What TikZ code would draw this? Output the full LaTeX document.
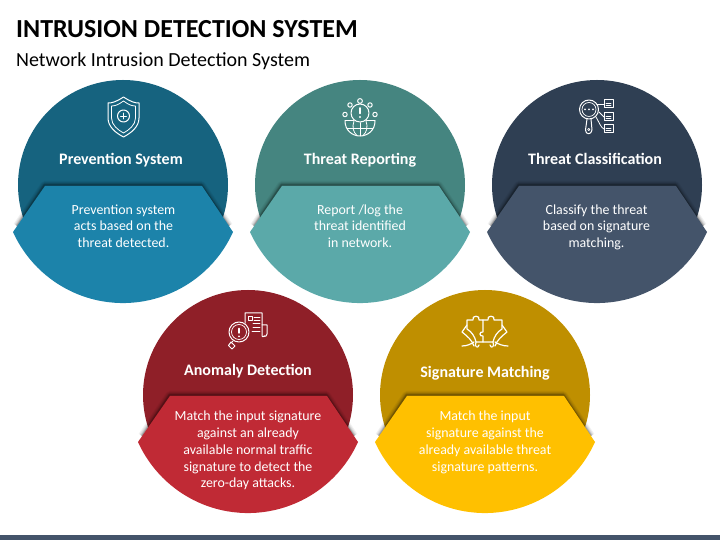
\documentclass[tikz,border=0pt]{standalone}
\usepackage{fontspec}
\setmainfont{Carlito}
\definecolor{cA}{HTML}{16637F}\definecolor{lA}{HTML}{1C83AA}
\definecolor{cB}{HTML}{458580}\definecolor{lB}{HTML}{5BA9A9}
\definecolor{cC}{HTML}{2F3F53}\definecolor{lC}{HTML}{44546A}
\definecolor{cD}{HTML}{8F1F28}\definecolor{lD}{HTML}{C02A35}
\definecolor{cE}{HTML}{BF8F00}\definecolor{lE}{HTML}{FFC000}
\definecolor{barc}{HTML}{44546A}
\tikzset{
  x=1pt,y=1pt,
  headtext/.style={text=white,font=\fontsize{16}{19}\selectfont\bfseries,inner sep=0pt,anchor=base},
  bodytext/.style={text=white,font=\fontsize{13.9}{16.8}\selectfont,align=center,inner sep=0pt,anchor=north},
  ic/.style={draw=white,line width=1pt,line join=round,line cap=round},
  iconarea/.style={x=1pt,y=-1pt,yshift=540pt,ic},
}
% #1 name, #2 cx, #3 top (px from top), #4 dark, #5 light, #6 heading, #7 body, #8 heading position, #9 body position
\newcommand{\unitdisc}[9]{%
  \begin{scope}[shift={(#2,540-#3)}]
    \fill[#4] (0,-105) circle[radius=105];
    \foreach \w/\o in {8/.05,6/.07,4/.09,2.5/.12,1.2/.16}{
      \draw[black,opacity=\o,line width=\w pt,line join=round]
        (-106,-146) -- (-78.5,-105) -- (78.5,-105) -- (106,-146);
    }
    \fill[#5] (-110,-152) -- (-78,-106) -- (79,-106) -- (110,-152)
      arc[start angle=-24.3,end angle=-155.7,radius=120.7] -- cycle;
  \end{scope}
  \node[headtext] (#1head) at (#8) {#6};
  \node[bodytext] (#1body) at (#9) {#7};
}
\begin{document}
\begin{tikzpicture}
\useasboundingbox (0,0) rectangle (720,540);
\fill[barc] (0,0) rectangle (720,5);
\node[anchor=base west,inner sep=0pt,font=\fontsize{26}{30}\selectfont\bfseries] (title) at (16,502) {INTRUSION DETECTION SYSTEM};
\node[anchor=base west,inner sep=0pt,font=\fontsize{20}{24}\selectfont] (subtitle) at (16,473) {Network Intrusion Detection System};

\unitdisc{prev}{123}{80}{cA}{lA}{Prevention System}{Prevention system\\acts based on the\\threat detected.}{121,375.3}{123.5,335.7}
\unitdisc{rep}{360}{80}{cB}{lB}{Threat Reporting}{Report /log the\\threat identified\\in network.}{360,375.3}{360,335.7}
\unitdisc{cls}{597}{80}{cC}{lC}{Threat Classification}{Classify the threat\\based on signature\\matching.}{595,375.3}{596.5,335.7}
\unitdisc{ano}{248}{290}{cD}{lD}{Anomaly Detection}{Match the input signature\\against an already\\available normal traffic\\signature to detect the\\zero-day attacks.}{248,164.3}{248,129.2}
\unitdisc{sig}{485}{290}{cE}{lE}{Signature Matching}{Match the input\\signature against the\\already available threat\\signature patterns.}{485,162.3}{485,129.2}

% shield
\begin{scope}[iconarea]
  \draw (123.5,97) .. controls (116,102) and (112,103) .. (108,103) -- (108,118) .. controls (108,127) and (116,133) .. (123.5,137) .. controls (131,133) and (139,127) .. (139,118) -- (139,103) .. controls (135,103) and (131,102) .. (123.5,97) -- cycle;
  \draw[line width=.8pt] (123.5,101) .. controls (118,105) and (115,106) .. (111.5,106) -- (111.5,118) .. controls (111.5,125) and (118,130) .. (123.5,133) .. controls (129,130) and (135.5,125) .. (135.5,118) -- (135.5,106) .. controls (132,106) and (129,105) .. (123.5,101) -- cycle;
  \draw (123.5,116) circle[radius=6];
  \draw[line width=.8pt] (120.5,116) -- (126.5,116) (123.5,113) -- (123.5,119);
\end{scope}
% globe
\begin{scope}[iconarea]
  \draw (345,121) -- (375,121);
  \draw (345,121) .. controls (345,130) and (352,136) .. (360,136) .. controls (368,136) and (375,130) .. (375,121);
  \draw[line width=.8pt] (360,121) -- (360,136) (347,128) -- (373,128);
  \draw[line width=.8pt] (354,121) .. controls (352,127) and (353,132) .. (357,135.5);
  \draw[line width=.8pt] (366,121) .. controls (368,127) and (367,132) .. (363,135.5);
  \fill[cB] (360,113) circle[radius=9.5];
  \draw (360,113) circle[radius=9];
  \draw[line width=1.5pt] (360,108) -- (360,113.5);
  \fill[white] (360,117) circle[radius=1.1];
  \draw (350,105) circle[radius=2.2];
  \draw (360,101) circle[radius=2.4];
  \draw (370,105) circle[radius=2.2];
  \draw (345,114.5) circle[radius=2.2];
  \draw (375,114.5) circle[radius=2.2];
\end{scope}
% magnifier with lists
\begin{scope}[iconarea]
  \draw (589,109.5) circle[radius=9.5];
  \draw[line width=.7pt] (589,109.5) circle[radius=7];
  \fill[white] (585,109.5) circle[radius=1] (589,109.5) circle[radius=1] (593,109.5) circle[radius=1];
  \draw (587,119) -- (585.5,130) .. controls (585.5,135) and (591.5,135) .. (592,130) -- (591,119);
  \draw[line width=.7pt] (588.7,129.5) circle[radius=1.2];
  \draw (604,100) rectangle (613,108);
  \draw (604,113) rectangle (613,121);
  \draw (604,125) rectangle (613,133);
  \draw[line width=.7pt] (606,103) -- (611,103) (606,105.5) -- (611,105.5) (606,116) -- (611,116) (606,118.5) -- (611,118.5) (606,128) -- (611,128) (606,130.5) -- (611,130.5);
  \draw[line width=.8pt] (597,104) .. controls (600,104) and (601,104) .. (604,104);
  \draw[line width=.8pt] (599,112) -- (604,117);
  \draw[line width=.8pt] (596,117) .. controls (599,122) and (601,128) .. (604,129);
\end{scope}
% magnifier with document
\begin{scope}[iconarea]
  \draw (245,324) -- (245,313) -- (262,313) -- (262,336) .. controls (262,337) and (263,337) .. (265,336);
  \draw (262,325) -- (267,325) -- (267,334) .. controls (267,336) and (265,337) .. (264,336);
  \draw[line width=.8pt] (248,316) rectangle (252,320);
  \draw[line width=.8pt] (254,317) -- (260,317) (254,320) -- (260,320) (253,323.5) -- (260,323.5) (253,327) -- (260,327) (252,331) -- (260,331);
  \fill[cD] (239,332) circle[radius=10.8];
  \draw (239,332) circle[radius=10];
  \draw[line width=.7pt] (239,332) circle[radius=7.5];
  \draw[line width=1.5pt] (239,328.5) -- (239,333);
  \fill[white] (239,336.5) circle[radius=1];
  \draw (233,341) -- (231,343);
  \draw (231,342) -- (235,346) -- (232,349) -- (228.5,345.5) -- cycle;
\end{scope}
% puzzle and hands
\begin{scope}[iconarea,line width=1.2pt]
  \draw (483,320) -- (479,320) .. controls (481,315) and (471,315) .. (473,320) -- (467,320) -- (467,329)
        .. controls (472,332) and (475,337) .. (476,342) -- (483,342) -- (483,336)
        .. controls (479,337) and (479,331) .. (483,332) -- (483,320);
  \draw (483,320) -- (488,320) .. controls (486,315) and (496,315) .. (494,320) -- (502,320) -- (502,329)
        .. controls (497,332) and (494,337) .. (493,342) -- (483,342);
  \draw (476,342) .. controls (474,347) and (478,349) .. (479,345);
  \draw (493,342) .. controls (495,347) and (491,349) .. (490,345);
  \draw (467,325) -- (462,332) .. controls (467,336) and (472,340) .. (474,346);
  \draw (462,346) .. controls (467,346) and (471,344) .. (474,342);
  \draw (502,325) -- (507,332) .. controls (502,336) and (497,340) .. (495,346);
  \draw (508,346) .. controls (503,346) and (498,344) .. (495,342);
\end{scope}
\end{tikzpicture}
\end{document}
